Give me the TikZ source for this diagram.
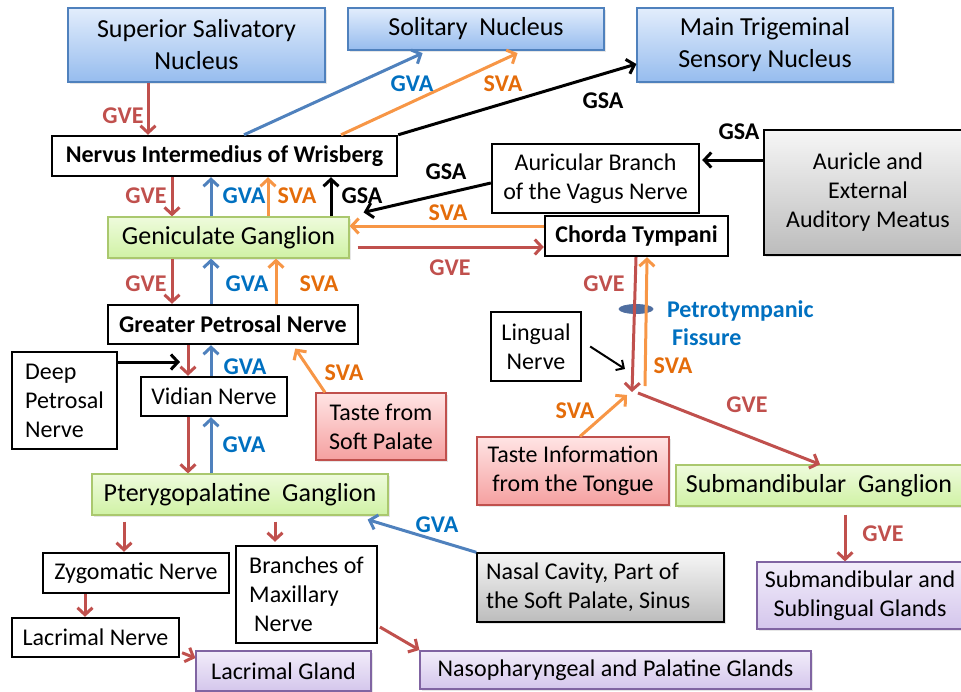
\documentclass[tikz,border=0pt]{standalone}
\usepackage{fontspec}
\setmainfont{Carlito}
\usetikzlibrary{arrows.meta,shapes.geometric,shadows}

\definecolor{gvecol}{RGB}{192,80,77}
\definecolor{gvacol}{RGB}{79,129,189}
\definecolor{svacol}{RGB}{247,150,70}
\definecolor{gvetxt}{RGB}{192,80,77}
\definecolor{gvatxt}{RGB}{0,112,192}
\definecolor{svatxt}{RGB}{228,108,10}
\definecolor{fissure}{RGB}{79,110,160}

\tikzset{
  base/.style={align=center, inner sep=0pt},
  nerve/.style={base, draw, line width=1.2pt, fill=white, font=\fontsize{12}{14.5}\selectfont},
  bnerve/.style={nerve, font=\bfseries\fontsize{12}{14}\selectfont},
  nucleus/.style={base, draw=gvacol, line width=0.6pt, top color={rgb,255:red,226;green,237;blue,252},
    bottom color={rgb,255:red,150;green,188;blue,238}, font=\fontsize{13}{16}\selectfont,
    drop shadow={opacity=0.2, shadow xshift=1pt, shadow yshift=-1pt}},
  ganglion/.style={base, draw={rgb,255:red,170;green,200;blue,110}, line width=0.6pt,
    top color={rgb,255:red,238;green,251;blue,220}, bottom color={rgb,255:red,208;green,242;blue,165},
    font=\fontsize{13}{16}\selectfont, drop shadow={opacity=0.2, shadow xshift=1pt, shadow yshift=-1pt}},
  taste/.style={base, draw=gvecol, line width=0.6pt, top color={rgb,255:red,255;green,228;blue,228},
    bottom color={rgb,255:red,245;green,160;blue,160}, font=\fontsize{12}{14.5}\selectfont,
    drop shadow={opacity=0.2, shadow xshift=1pt, shadow yshift=-1pt}},
  gland/.style={base, draw={rgb,255:red,128;green,100;blue,162}, line width=0.6pt,
    top color={rgb,255:red,242;green,237;blue,250}, bottom color={rgb,255:red,212;green,198;blue,236},
    font=\fontsize{12}{14.5}\selectfont, drop shadow={opacity=0.2, shadow xshift=1pt, shadow yshift=-1pt}},
  source/.style={base, draw, line width=0.7pt, top color={rgb,255:red,246;green,246;blue,246},
    bottom color={rgb,255:red,188;green,188;blue,188}, font=\fontsize{12}{14.5}\selectfont,
    drop shadow={opacity=0.2, shadow xshift=1pt, shadow yshift=-1pt}},
  fib/.style={line width=1.5pt, -{Straight Barb[length=3.5pt,width=7.5pt]}},
  gve/.style={fib, draw=gvecol},
  gva/.style={fib, draw=gvacol},
  sva/.style={fib, draw=svacol},
  gsa/.style={fib, draw=black},
  lab/.style={font=\bfseries\fontsize{12}{14}\selectfont},
}

\begin{document}
\begin{tikzpicture}[x=0.5pt, y=-0.5pt]
  \useasboundingbox (0,0) rectangle (961,691);

  % nuclei
  \node[nucleus, minimum width=128.5pt, minimum height=37pt] (ssn) at (196.5,45) {Superior Salivatory\\Nucleus};
  \node[nucleus, minimum width=128pt, minimum height=21pt] (sol) at (476,29) {Solitary~ Nucleus};
  \node[nucleus, minimum width=128pt, minimum height=37pt] (mts) at (765,45) {Main Trigeminal\\Sensory Nucleus};

  % nerves and ganglia
  \node[bnerve, minimum width=172.5pt, minimum height=20pt] (nim) at (224.5,156) {Nervus Intermedius of Wrisberg};
  \node[nerve, minimum width=103.5pt, minimum height=34.5pt] (abv) at (595.5,178.5) {Auricular Branch\\of the Vagus Nerve};
  \node[source, minimum width=104pt, minimum height=62.5pt] (aem) at (868,192.5) {Auricle and\\External\\Auditory Meatus};
  \node[ganglion, minimum width=120.5pt, minimum height=20.5pt] (gg) at (228.5,237.5) {Geniculate Ganglion};
  \node[bnerve, minimum width=91.5pt, minimum height=20pt] (ct) at (636.5,236) {Chorda Tympani};
  \node[bnerve, minimum width=125pt, minimum height=19.5pt] (gpn) at (233,324.5) {Greater Petrosal Nerve};
  \node[nerve, align=left, minimum width=52.5pt, minimum height=48.5pt] (dpn) at (64.5,400.5) {Deep\\Petrosal\\Nerve};
  \node[nerve, minimum width=73pt, minimum height=19.5pt] (vn) at (214,396.5) {Vidian Nerve};
  \node[taste, minimum width=65pt, minimum height=33.5pt] (tsp) at (381,426.5) {Taste from\\Soft Palate};
  \node[nerve, minimum width=45pt, minimum height=34.5pt] (ln) at (536,346.5) {Lingual\\Nerve};
  \node[taste, minimum width=96pt, minimum height=34pt] (tt) at (573,471) {Taste Information\\from the Tongue};
  \node[ganglion, minimum width=143pt, minimum height=20.5pt] (sg) at (819,485.5) {Submandibular~ Ganglion};
  \node[ganglion, minimum width=148pt, minimum height=20.5pt] (ptg) at (240,494.5) {Pterygopalatine~ Ganglion};
  \node[nerve, minimum width=93pt, minimum height=20pt] (zn) at (136,573) {Zygomatic Nerve};
  \node[nerve, align=left, minimum width=70.5pt, minimum height=48.5pt] (bmn) at (306.5,594.5) {Branches of\\Maxillary\\\hspace*{2.5pt}Nerve};
  \node[source, align=flush left, text width=114.5pt, inner xsep=4.5pt, minimum height=34.5pt] (ncs) at (600.5,587.5) {Nasal Cavity, Part of\\the Soft Palate, Sinus};
  \node[gland, minimum width=103pt, minimum height=33.5pt] (ssg) at (860,595.5) {Submandibular and\\Sublingual Glands};
  \node[nerve, minimum width=83.5pt, minimum height=19.5pt] (lacn) at (95.5,637.5) {Lacrimal Nerve};
  \node[gland, minimum width=87.5pt, minimum height=20pt] (lg) at (283.5,671) {Lacrimal Gland};
  \node[gland, minimum width=195.5pt, minimum height=19pt] (npg) at (615.5,670) {Nasopharyngeal and Palatine Glands};

  % petrotympanic fissure
  \node[ellipse, draw=fissure, fill=fissure, minimum width=17pt, minimum height=4.5pt, inner sep=0pt] (ptf) at (636,309) {};
  \node[lab, text=gvatxt, align=left, anchor=west] (ptft) at (660,323) {Petrotympanic\\\hspace*{2.5pt}Fissure};

  % junction near the lingual nerve
  \coordinate (jn) at (632,392);
  \coordinate (jo) at (645,386);
  \coordinate (jt) at (627,395);
  \coordinate (jr) at (638,393);
  \coordinate (lnend) at (625,369);
  \coordinate (dpend) at (180,362);

  % nuclei <-> nervus intermedius
  \draw[gve] (ssn.south -| 148,0) -- (nim.north -| 148,0);
  \draw[gva, shorten >=3pt] (nim.north -| 244,0) -- (sol.south -| 428,0);
  \draw[sva, shorten >=3pt] (nim.north -| 341,0) -- (sol.south -| 523,0);
  \draw[gsa] (nim.north east) -- (mts.west |- 0,64);
  \node[lab, text=gvetxt] (l1) at (123,116) {GVE};
  \node[lab, text=gvatxt] (l2) at (412,84) {GVA};
  \node[lab, text=svatxt] (l3) at (503,84) {SVA};
  \node[lab] (l4) at (603,101) {GSA};

  % nervus intermedius <-> geniculate ganglion
  \draw[gve] (nim.south -| 172,0) -- (gg.north -| 172,0);
  \draw[gva] (gg.north -| 211,0) -- (nim.south -| 211,0);
  \draw[sva] (gg.north -| 268,0) -- (nim.south -| 268,0);
  \draw[gsa] (gg.north -| 331,0) -- (nim.south -| 331,0);
  \node[lab, text=gvetxt] (l5) at (146,196) {GVE};
  \node[lab, text=gvatxt] (l6) at (244,196) {GVA};
  \node[lab, text=svatxt] (l7) at (297,196) {SVA};
  \node[lab] (l8) at (362,196) {GSA};

  % right side into geniculate ganglion
  \draw[gsa] (abv.west |- 0,183) -- ([xshift=7pt,yshift=2pt]gg.north east);
  \draw[sva] (ct.west |- 0,226) -- (gg.east |- 0,226);
  \draw[gve, shorten <=4pt] (gg.east |- 0,247) -- (ct.west |- 0,247);
  \draw[gsa, shorten >=1pt] (aem.west |- 0,160) -- (abv.east |- 0,160);
  \node[lab] (l9) at (446,172) {GSA};
  \node[lab, text=svatxt] (l10) at (448,213) {SVA};
  \node[lab, text=gvetxt] (l11) at (450,268) {GVE};
  \node[lab] (l12) at (739,132) {GSA};

  % geniculate ganglion <-> greater petrosal nerve
  \draw[gve] (gg.south -| 172,0) -- (gpn.north -| 172,0);
  \draw[gva] (gpn.north -| 211,0) -- (gg.south -| 211,0);
  \draw[sva] (gpn.north -| 276,0) -- (gg.south -| 276,0);
  \node[lab, text=gvetxt] (l13) at (146,284) {GVE};
  \node[lab, text=gvatxt] (l14) at (247,284) {GVA};
  \node[lab, text=svatxt] (l15) at (319,284) {SVA};

  % greater petrosal nerve <-> vidian nerve
  \draw[gve] (gpn.south -| 188,0) -- (vn.north -| 188,0);
  \draw[gva] (vn.north -| 211,0) -- (gpn.south -| 211,0);
  \draw[gsa] (dpn.east |- 0,362) -- (dpend);
  \draw[sva, shorten >=2pt] (tsp.north -| 325,0) -- (gpn.south -| 293,0);
  \node[lab, text=gvatxt] (l16) at (245,367) {GVA};
  \node[lab, text=svatxt] (l17) at (344,373) {SVA};

  % vidian nerve <-> pterygopalatine ganglion
  \draw[gve] (vn.south -| 188,0) -- (ptg.north -| 188,0);
  \draw[gva] (ptg.north -| 211,0) -- (vn.south -| 211,0);
  \draw[gva] (ncs.north west) -- ([xshift=-10.5pt,yshift=-2pt]ptg.south east);
  \node[lab, text=gvatxt] (l18) at (244,445) {GVA};
  \node[lab, text=gvatxt] (l19) at (437,525) {GVA};

  % branches of the pterygopalatine ganglion
  \draw[gve, shorten <=3pt] (ptg.south -| 124,0) -- (zn.north -| 124,0);
  \draw[gve, shorten <=3pt, shorten >=1.5pt] (ptg.south -| 275,0) -- (bmn.north -| 275,0);
  \draw[gve] (zn.south -| 85,0) -- (lacn.north -| 85,0);
  \draw[gve, shorten <=1pt] (lacn.east |- 0,652) -- (lg.west |- 0,658);
  \draw[gve, shorten <=1pt] (bmn.east |- 0,626) -- (npg.west |- 0,650);

  % chorda tympani
  \draw[gve] (ct.south -| 636,0) -- (jn);
  \draw[sva] (jo) -- (ct.south -| 647,0);
  \draw[line width=1pt, -{Straight Barb[length=3pt,width=6pt]}] ([xshift=4pt]ln.east) -- (lnend);
  \draw[sva] (tt.north -| 580,0) -- (jt);
  \draw[gve] (jr) -- (sg.north -| 820,0);
  \draw[gve, shorten <=4pt] (sg.south -| 845,0) -- (ssg.north -| 845,0);
  \node[lab, text=gvetxt] (l20) at (604,284) {GVE};
  \node[lab, text=svatxt] (l21) at (673,366) {SVA};
  \node[lab, text=svatxt] (l22) at (575,411) {SVA};
  \node[lab, text=gvetxt] (l23) at (747,405) {GVE};
  \node[lab, text=gvetxt] (l24) at (883,534) {GVE};
\end{tikzpicture}
\end{document}
